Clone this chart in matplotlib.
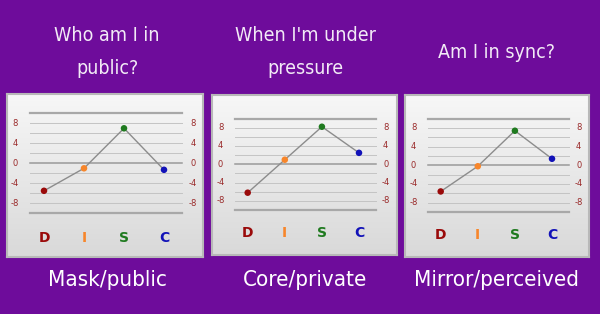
import matplotlib
matplotlib.use('Agg')
import matplotlib.pyplot as plt
import numpy as np

# Data: DISC profile values
letters = ['D', 'I', 'S', 'C']
letter_colors = ['#9a0a0a', '#f7862b', '#1f7a1f', '#1212b8']
mask_public = [-5.5, -1.0, 7.0, -1.3]
core_private = [-6.2, 1.0, 8.2, 2.5]
mirror_perceived = [-5.6, -0.2, 7.4, 1.4]

titles = ["Who am I in\npublic?", "When I'm under\npressure", "Am I in sync?"]
captions = ["Mask/public", "Core/private", "Mirror/perceived"]
ticks = [8, 4, 0, -4, -8]

BG = '#6e0c9b'
W, H = 600, 314

fig = plt.figure(figsize=(6, 3.14), dpi=100)
fig.patch.set_facecolor(BG)

# panel boxes in pixels: left, top, right, bottom, pixel x of D, x step, pixel y of zero, px per unit
panels = [
    (7, 94, 203, 257, 44, 40.0, 163.3, 5.0),
    (212, 95, 397, 255, 247.7, 37.1, 164.3, 4.58),
    (405, 95, 589, 257, 440.7, 37.1, 165.3, 4.67),
]
series = [mask_public, core_private, mirror_perceived]
title_x = [107, 305, 497]

gradient = np.linspace(0, 1, 100).reshape(-1, 1)
cmap = matplotlib.colors.LinearSegmentedColormap.from_list('g', ['#f7f7f7', '#d9d9d9'])

for (l, t, r, b, x0, dx, y0, py), vals, title, cap, tx in zip(panels, series, titles, captions, title_x):
    ax = fig.add_axes([l / W, 1 - b / H, (r - l) / W, (b - t) / H])
    ax.set_xlim((l - x0) / dx, (r - x0) / dx)
    ax.set_ylim((y0 - b) / py, (y0 - t) / py)
    ax.set_xticks([])
    ax.set_yticks([])
    for s in ax.spines.values():
        s.set_color('#b8b8b8')
        s.set_linewidth(1.5)

    # light gradient backdrop
    ax.imshow(gradient, cmap=cmap, extent=[0, 1, 0, 1], transform=ax.transAxes,
              aspect='auto', zorder=0)

    # horizontal rules
    for v in range(-8, 9, 2):
        if v == 0:
            ax.plot([-0.35, 3.45], [v, v], color='#9a9a9a', lw=1.1, zorder=1)
        else:
            ax.plot([-0.35, 3.45], [v, v], color='#c4c4c4', lw=0.7, zorder=1)
    for v in (10, -10):
        ax.plot([-0.35, 3.45], [v, v], color='#a8a8a8', lw=1.6, zorder=1)

    for v in ticks:
        ax.text(-0.73, v, str(v), color='#9a2a2a', fontsize=6, ha='center', va='center')
        ax.text(3.72, v, str(v), color='#9a2a2a', fontsize=6, ha='center', va='center')

    xs = np.arange(len(letters))
    ax.plot(xs, vals, color='#8c8c8c', lw=1.0, zorder=2)
    ax.scatter(xs, vals, c=letter_colors, s=22, zorder=3, edgecolors='none')

    for i, (lt, c) in enumerate(zip(letters, letter_colors)):
        ax.text(i, -15, lt, color=c, fontsize=10, fontweight='bold', ha='center', va='center')

    # title above and caption below
    fig.text(tx / W, 1 - 52 / H, title, color='#f2eaf6', fontsize=14, ha='center', va='center',
             family='DejaVu Sans', stretch='condensed', weight='light', linespacing=1.95)
    fig.text(tx / W, 1 - 280 / H, cap, color='white', fontsize=16, ha='center', va='center',
             family='DejaVu Sans', stretch='condensed', weight='light')

fig.savefig('out.png', dpi=100, facecolor=BG)
